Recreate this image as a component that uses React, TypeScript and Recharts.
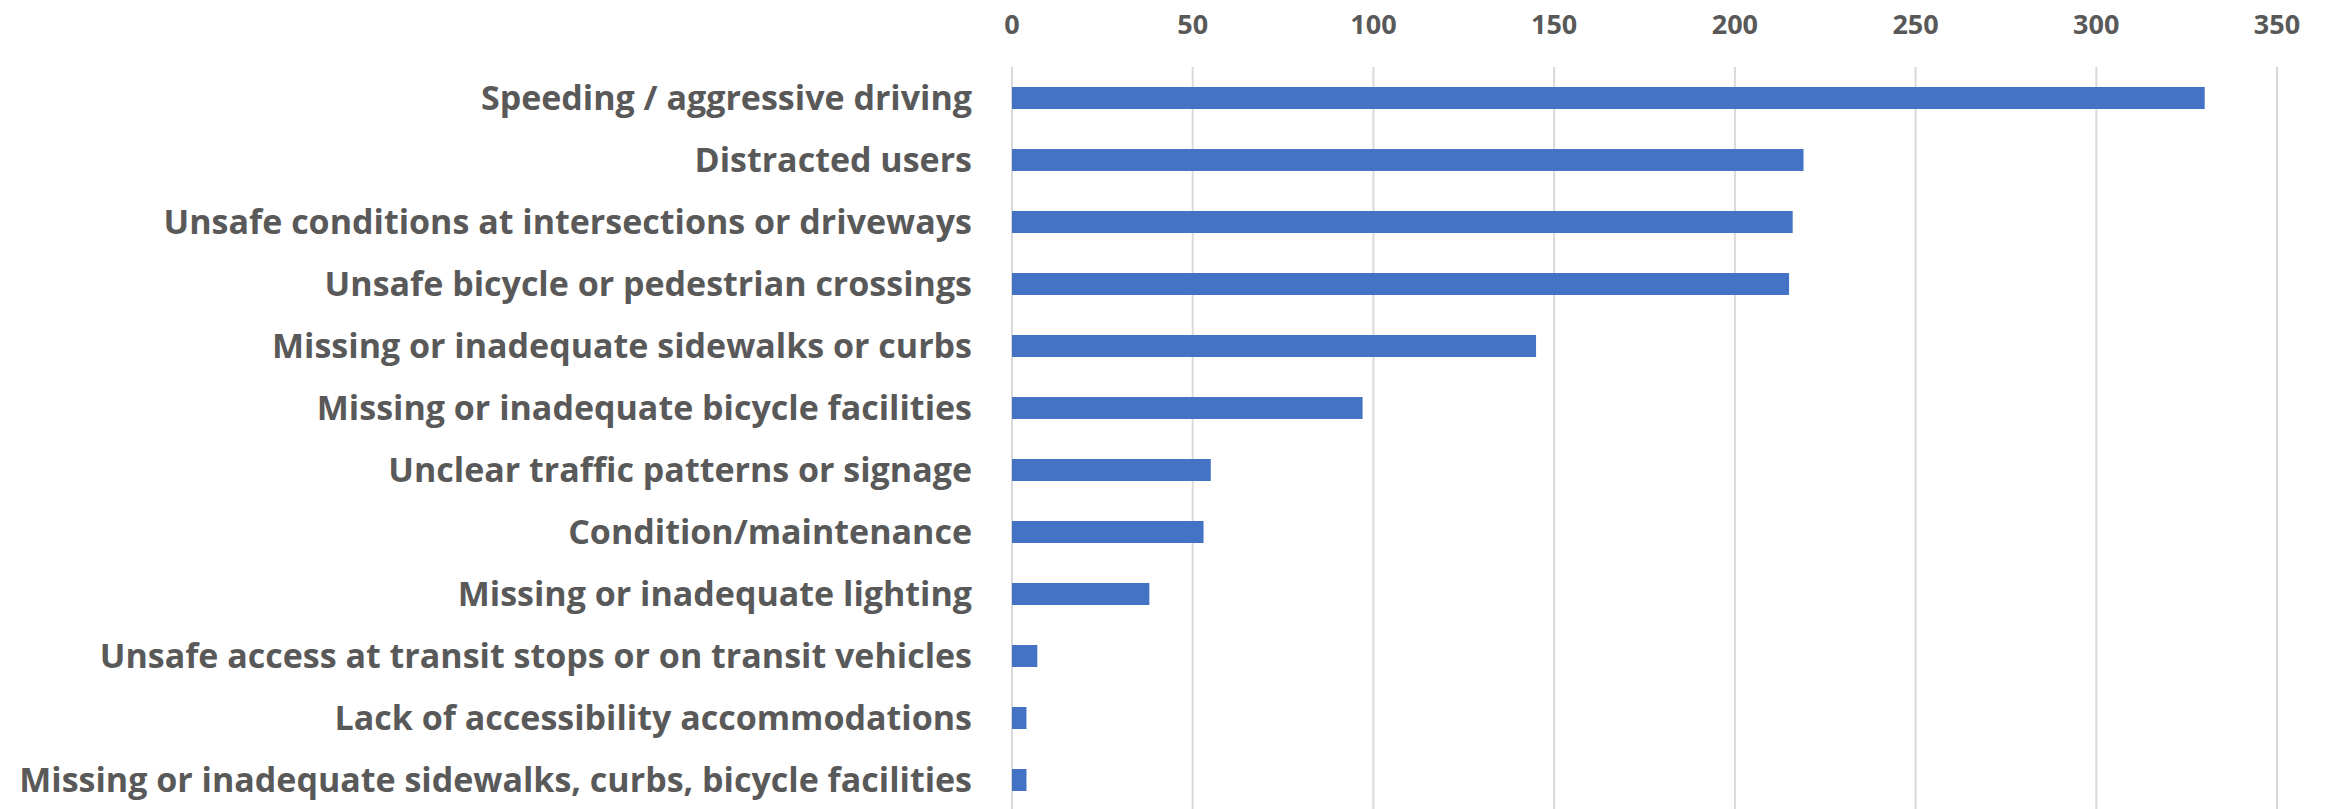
import { Bar, BarChart, CartesianGrid, XAxis, YAxis } from "recharts"

const categories = [
  "Speeding / aggressive driving",
  "Distracted users ",
  "Unsafe conditions at intersections or driveways",
  "Unsafe bicycle or pedestrian crossings",
  "Missing or inadequate sidewalks or curbs",
  "Missing or inadequate bicycle facilities",
  "Unclear traffic patterns or signage",
  "Condition/maintenance ",
  "Missing or inadequate lighting",
  "Unsafe access at transit stops or on transit vehicles",
  "Lack of accessibility accommodations",
  "Missing or inadequate sidewalks, curbs, bicycle facilities",
]

const responses = [330, 219, 216, 215, 145, 97, 55, 53, 38, 7, 4, 4]

const xTicks = [0, 50, 100, 150, 200, 250, 300, 350]

const data = categories.map((name, i) => ({ name, value: responses[i] }))

const font = "'Open Sans', Lato, sans-serif"

export default function App() {
  return (
    <div
      style={{
        position: "absolute",
        left: 0,
        top: 0,
        width: 2330,
        height: 809,
        overflow: "hidden",
        background: "#fff",
      }}
    >
      <BarChart
        width={2330}
        height={820}
        data={data}
        layout="vertical"
        margin={{ top: 0, right: 53, bottom: 9, left: 0 }}
        barCategoryGap={0}
      >
        <CartesianGrid
          horizontal={false}
          stroke="#d9d9d9"
          strokeWidth={2}
        />
        <XAxis
          type="number"
          orientation="top"
          domain={[0, 350]}
          ticks={xTicks}
          height={67}
          axisLine={false}
          tickLine={false}
          tickSize={0}
          tickMargin={33}
          tick={{
            fill: "#595959",
            fontSize: 27,
            fontWeight: 700,
            fontFamily: font,
          }}
        />
        <YAxis
          type="category"
          dataKey="name"
          width={1012}
          axisLine={false}
          tickLine={false}
          tickSize={0}
          tickMargin={40}
          interval={0}
          tick={{
            fill: "#595959",
            fontSize: 34,
            fontWeight: 700,
            fontFamily: font,
          }}
        />
        <Bar
          dataKey="value"
          fill="#4472c4"
          barSize={22}
          isAnimationActive={false}
        />
      </BarChart>
    </div>
  )
}
